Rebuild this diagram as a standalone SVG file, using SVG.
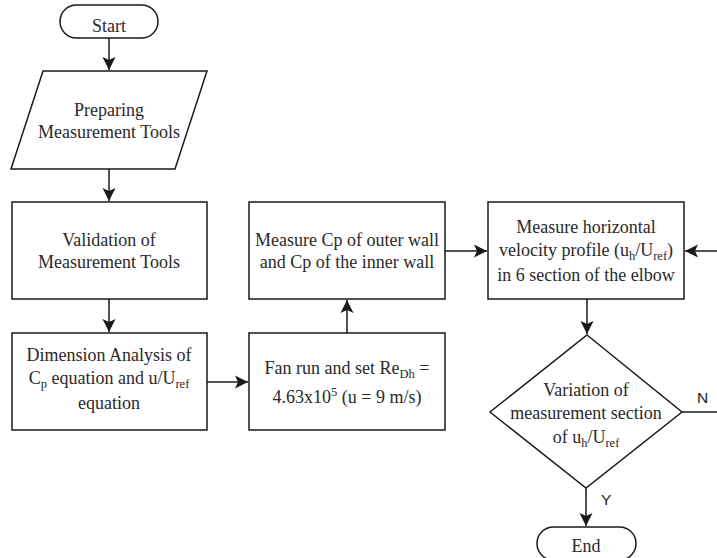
<svg xmlns="http://www.w3.org/2000/svg" width="717" height="558" viewBox="0 0 717 558">
<style>
.s{fill:#fff;stroke:#1a1a1a;stroke-width:1.5}
.t{font-family:"Liberation Serif","Times New Roman",serif;font-size:18px;fill:#2a2a2a;text-anchor:middle}
.l{font-family:"Liberation Sans",Arial,sans-serif;font-size:15.5px;fill:#222}
.sub{font-size:12.5px}
.c{fill:none;stroke:#1a1a1a;stroke-width:1.5}
</style>
<defs>
<marker id="a" markerUnits="userSpaceOnUse" markerWidth="14" markerHeight="14" refX="13" refY="7" orient="auto">
<path d="M0,0.5 L13,7 L0,13.5 L3,7 z" fill="#1a1a1a"/>
</marker>
</defs>
<rect width="717" height="558" fill="#fff"/>
<g id="connectors">
<path class="c" d="M109,38 V70" marker-end="url(#a)"/>
<path class="c" d="M109,169 V201" marker-end="url(#a)"/>
<path class="c" d="M109,299 V332" marker-end="url(#a)"/>
<path class="c" d="M207,382 H248" marker-end="url(#a)"/>
<path class="c" d="M347,333 V300" marker-end="url(#a)"/>
<path class="c" d="M445,251 H487" marker-end="url(#a)"/>
<path class="c" d="M587,299 V334" marker-end="url(#a)"/>
<path class="c" d="M586,488 V526" marker-end="url(#a)"/>
<path class="c" d="M682,412 H717"/>
<path class="c" d="M717,251 H685" marker-end="url(#a)"/>
<text class="l" x="697" y="403">N</text>
<text class="l" x="601" y="505">Y</text>
</g>
<g id="start">
<rect class="s" x="60" y="5" width="98" height="33" rx="16.5"/>
<text class="t" x="109" y="32">Start</text>
</g>
<g id="prepare">
<path class="s" d="M43,71 H207 L175,169 H11 Z"/>
<text class="t" x="109" y="116">Preparing</text>
<text class="t" x="109" y="138">Measurement Tools</text>
</g>
<g id="validation">
<rect class="s" x="12" y="202" width="195" height="97"/>
<text class="t" x="109" y="246">Validation of</text>
<text class="t" x="109" y="268">Measurement Tools</text>
</g>
<g id="dimension">
<rect class="s" x="12" y="333" width="195" height="97"/>
<text class="t" x="109" y="361">Dimension Analysis of</text>
<text class="t" x="109" y="384">C<tspan class="sub" dy="4">p</tspan><tspan dy="-4"> equation and u/U</tspan><tspan class="sub" dy="4">ref</tspan></text>
<text class="t" x="109" y="409">equation</text>
</g>
<g id="fan">
<rect class="s" x="249" y="333" width="196" height="97"/>
<text class="t" x="347" y="374">Fan run and set Re<tspan class="sub" dy="4">Dh</tspan><tspan dy="-4"> =</tspan></text>
<text class="t" x="347" y="403">4.63x10<tspan class="sub" dy="-7">5</tspan><tspan dy="7"> (u = 9 m/s)</tspan></text>
</g>
<g id="measurecp">
<rect class="s" x="249" y="202" width="196" height="97"/>
<text class="t" x="347" y="246">Measure Cp of outer wall</text>
<text class="t" x="347" y="268">and Cp of the inner wall</text>
</g>
<g id="measureh">
<rect class="s" x="488" y="202" width="196" height="97"/>
<text class="t" x="586" y="233">Measure horizontal</text>
<text class="t" x="586" y="256">velocity profile (u<tspan class="sub" dy="4">h</tspan><tspan dy="-4">/U</tspan><tspan class="sub" dy="4">ref</tspan><tspan dy="-4">)</tspan></text>
<text class="t" x="586" y="281">in 6 section of the elbow</text>
</g>
<g id="decision">
<path class="s" d="M587,335 L682,412 L586,488 L490,412 Z"/>
<text class="t" x="586" y="396">Variation of</text>
<text class="t" x="586" y="419">measurement section</text>
<text class="t" x="586" y="443">of u<tspan class="sub" dy="4">h</tspan><tspan dy="-4">/U</tspan><tspan class="sub" dy="4">ref</tspan></text>
</g>
<g id="end">
<rect class="s" x="537" y="527" width="99" height="33" rx="16.5"/>
<text class="t" x="586" y="552">End</text>
</g>
</svg>
